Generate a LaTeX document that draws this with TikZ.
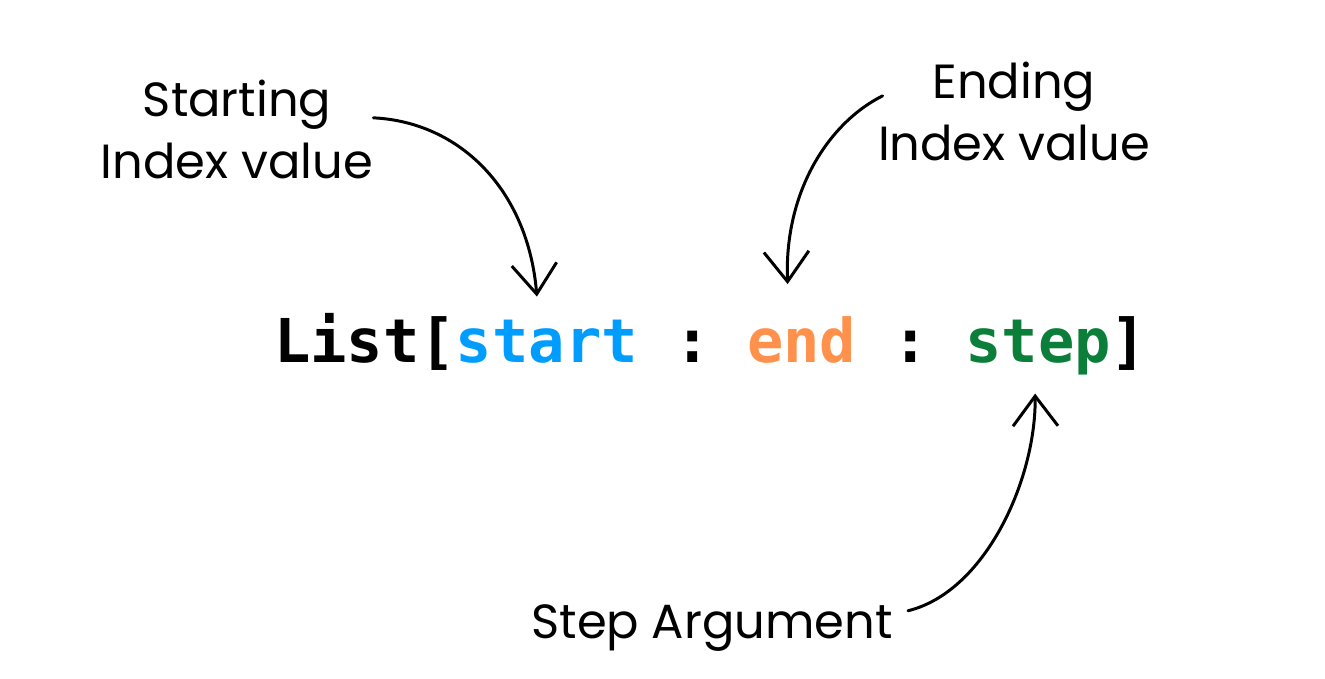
\documentclass[tikz,border=0pt]{standalone}
\usepackage{fontspec}
\setmainfont{Poppins}
\setmonofont{DejaVu Sans Mono}
\usetikzlibrary{arrows.meta,positioning}
\definecolor{startblue}{HTML}{009DFF}
\definecolor{endorange}{HTML}{FF914D}
\definecolor{stepgreen}{HTML}{0B7E3A}
\begin{document}
\begin{tikzpicture}[x=.02cm,y=-.02cm,
  lbl/.style={align=center,inner sep=0pt,font=\fontsize{27.3}{35.3}\selectfont},
  code/.style={inner sep=0pt,outer sep=0pt,font=\fontsize{34.4}{40}\selectfont\ttfamily\bfseries},
  hand/.style={line width=1.7pt,line cap=round,-{Straight Barb[length=6mm,width=9mm]}}]
\useasboundingbox (0,0) rectangle (1325,679);
% the slice expression
\node[code,anchor=base west] (lst) at (274,362) {List[};
\node[code,text=startblue,base right=0pt of lst] (st) {start};
\node[code,base right=0pt of st] (c1) {\phantom{x}:\phantom{x}};
\node[code,text=endorange,base right=0pt of c1] (en) {end};
\node[code,base right=0pt of en] (c2) {\phantom{x}:\phantom{x}};
\node[code,text=stepgreen,base right=0pt of c2] (sp) {step};
\node[code,base right=0pt of sp] (rb) {]};
% labels
\node[lbl,anchor=north] (startlbl) at (237,80) {Starting\\Index value};
\node[lbl,anchor=north] (endlbl) at (1014,62) {Ending\\Index value};
\node[lbl,anchor=north] (steplbl) at (712,604) {Step Argument};
% arrows
\draw[hand] ([shift={(0,-12)}]startlbl.east) .. controls (460,122) and (528,190) .. ([shift={(-10,-23)}]st.north);
\draw[hand] ([shift={(5,-16)}]endlbl.west) .. controls (830,122) and (784,190) .. ([shift={(-14,-32)}]en.north);
\draw[hand] ([shift={(15,-17)}]steplbl.east) .. controls (985,592) and (1036,480) .. ([shift={(-3,19)}]sp.south);
\end{tikzpicture}
\end{document}
